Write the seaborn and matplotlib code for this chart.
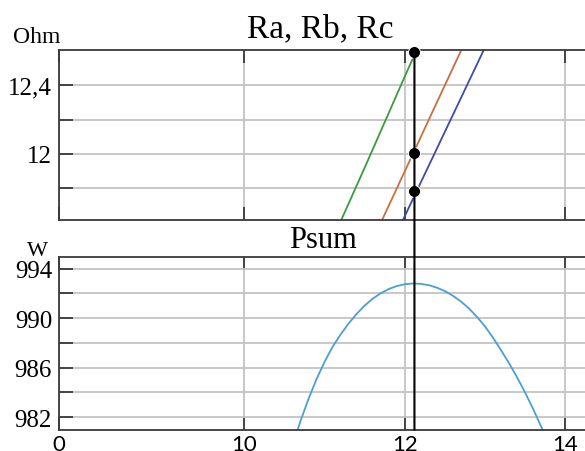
import numpy as np
import pandas as pd
import matplotlib
matplotlib.use('Agg')
import matplotlib.pyplot as plt
import seaborn as sns
from matplotlib.patches import ConnectionPatch

# данные
I_r = [11.0, 11.5, 12.0, 12.5, 13.0, 13.5]
Ra = [11.40, 11.92, 12.45, 12.97, 13.49, 14.00]
Rb = [10.90, 11.40, 11.90, 12.40, 12.90, 13.40]
Rc = [10.66, 11.15, 11.64, 12.13, 12.62, 13.11]

I_p = [10.6, 10.7, 10.8, 10.9, 11.0, 11.1, 11.2, 11.3, 11.4, 11.5, 11.6,
       11.7, 11.8, 11.9, 12.0, 12.1, 12.2, 12.3, 12.4, 12.5, 12.6, 12.7,
       12.8, 12.9, 13.0, 13.1, 13.2, 13.3, 13.4, 13.5, 13.6, 13.7, 13.8]
Psum = [979.65, 981.65, 983.45, 985.05, 986.45, 987.67, 988.67, 989.56,
        990.34, 991.01, 991.57, 992.01, 992.35, 992.59, 992.74, 992.80,
        992.77, 992.66, 992.46, 992.18, 991.80, 991.34, 990.77, 990.09,
        989.31, 988.40, 987.38, 986.33, 985.18, 983.95, 982.62, 981.19,
        979.68]

I_cursor = 12.12
R_cursor = [12.593, 12.006, 11.785]

sns.set_theme(style='white')
plt.rcParams['font.family'] = ['Liberation Serif', 'DejaVu Serif']
plt.rcParams['text.color'] = 'black'
plt.rcParams['xtick.color'] = 'black'
plt.rcParams['ytick.color'] = 'black'

df_r = pd.DataFrame({
    'I': I_r * 3,
    'R': Ra + Rb + Rc,
    'phase': ['Ra'] * len(I_r) + ['Rb'] * len(I_r) + ['Rc'] * len(I_r),
})
df_p = pd.DataFrame({'I': I_p, 'P': Psum})
df_c = pd.DataFrame({'I': [I_cursor] * 3, 'R': R_cursor})

fig = plt.figure(figsize=(5.85, 4.52), dpi=100)
ax1 = fig.add_axes([0.1009, 0.511, 0.9248, 0.3761])
ax2 = fig.add_axes([0.1009, 0.0471, 0.9248, 0.3821])


# ось X: участок 0..10 сжат
def fwd(x):
    x = np.asarray(x, dtype=float)
    return np.where(x <= 10, x * 18.5, 185 + (x - 10) * 80.3)


def inv(y):
    y = np.asarray(y, dtype=float)
    return np.where(y <= 185, y / 18.5, 10 + (y - 185) / 80.3)


grid_c = '#c4c4c4'
spine_c = '#3a3a3a'

for ax in (ax1, ax2):
    ax.set_xscale('function', functions=(fwd, inv))
    ax.set_xlim(0, 14.43)
    ax.set_xticks([0, 10, 12, 14])
    ax.xaxis.set_minor_locator(matplotlib.ticker.NullLocator())
    for s in ax.spines.values():
        s.set_color(spine_c)
        s.set_linewidth(1.3)
    ax.grid(True, which='both', color=grid_c, linewidth=1.3)
    ax.set_axisbelow(True)
    ax.tick_params(axis='y', which='both', direction='in', length=10, width=1.3,
                   color=spine_c, labelcolor='black', left=True, right=False,
                   labelsize=18, pad=5)
    ax.tick_params(axis='x', which='both', direction='in', length=9.5, width=1.3,
                   color=spine_c, labelcolor='black', top=True, bottom=True, pad=3)

# верхний график
sns.lineplot(data=df_r, x='I', y='R', hue='phase',
             palette=['#3c9b3c', '#c8703c', '#3c4ca8'],
             linewidth=1.3, legend=False, ax=ax1)
sns.scatterplot(data=df_c, x='I', y='R', color='black', s=75, zorder=5,
                clip_on=False, legend=False, ax=ax1)
ax1.set_ylim(11.617, 12.603)
ax1.set_yticks([12.0, 12.4])
ax1.set_yticklabels(['12', '12,4'])
ax1.yaxis.set_minor_locator(matplotlib.ticker.FixedLocator([11.8, 12.2]))
ax1.tick_params(axis='x', labelbottom=False)
ax1.set_xlabel('')
ax1.set_ylabel('')
ax1.set_title('Ra, Rb, Rc', fontsize=24, x=0.4834, pad=10)

# нижний график
sns.lineplot(data=df_p, x='I', y='P', color='#4a9fd6', linewidth=1.3, ax=ax2)
ax2.set_ylim(980.98, 994.94)
ax2.set_yticks([982, 986, 990, 994])
ax2.set_yticklabels(['982', '986', '990', '994'])
ax2.yaxis.set_minor_locator(matplotlib.ticker.FixedLocator([984, 988, 992]))
ax2.set_xticklabels(['0', '10', '12', '14'])
for tl in ax2.get_xticklabels():
    tl.set_fontfamily('Lato')
    tl.set_fontsize(16)
ax2.set_xlabel('')
ax2.set_ylabel('')
ax2.set_title('Psum', fontsize=22, x=0.487, pad=7)

# курсор через оба графика
con = ConnectionPatch(xyA=(I_cursor, 12.603), coordsA=ax1.transData,
                      xyB=(I_cursor, 980.98), coordsB=ax2.transData,
                      color='black', linewidth=1.5, zorder=4)
fig.add_artist(con)

fig.text(36.5 / 585, 1 - 43.3 / 452, 'Ohm', fontsize=17, ha='center', va='baseline')
fig.text(37.7 / 585, 1 - 256.5 / 452, 'W', fontsize=16, ha='center', va='baseline')

fig.savefig('out.png', dpi=100)
